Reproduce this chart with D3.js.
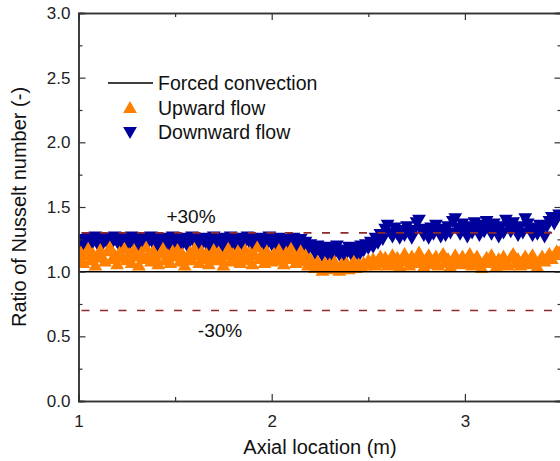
<!DOCTYPE html>
<html><head><meta charset="utf-8">
<script src="https://cdn.jsdelivr.net/npm/d3@7"></script>
<style>body{margin:0;background:#fff}svg{display:block;font-family:"Liberation Sans",Arial,sans-serif}</style>
</head><body><svg id="c" width="560" height="461"></svg>
<script>
const axialLocation = [
1.0000,1.0125,1.0250,1.0375,1.0500,1.0625,1.0750,1.0875,1.1000,1.1125,
1.1250,1.1375,1.1500,1.1625,1.1750,1.1875,1.2000,1.2125,1.2250,1.2375,
1.2500,1.2625,1.2750,1.2875,1.3000,1.3125,1.3250,1.3375,1.3500,1.3625,
1.3750,1.3875,1.4000,1.4125,1.4250,1.4375,1.4500,1.4625,1.4750,1.4875,
1.5000,1.5125,1.5250,1.5375,1.5500,1.5625,1.5750,1.5875,1.6000,1.6125,
1.6250,1.6375,1.6500,1.6625,1.6750,1.6875,1.7000,1.7125,1.7250,1.7375,
1.7500,1.7625,1.7750,1.7875,1.8000,1.8125,1.8250,1.8375,1.8500,1.8625,
1.8750,1.8875,1.9000,1.9125,1.9250,1.9375,1.9500,1.9625,1.9750,1.9875,
2.0000,2.0125,2.0250,2.0375,2.0500,2.0625,2.0750,2.0875,2.1000,2.1125,
2.1250,2.1375,2.1500,2.1625,2.1750,2.1875,2.2000,2.2125,2.2250,2.2375,
2.2500,2.2625,2.2750,2.2875,2.3000,2.3125,2.3250,2.3375,2.3500,2.3625,
2.3750,2.3875,2.4000,2.4125,2.4250,2.4375,2.4500,2.4625,2.4750,2.4875,
2.5000,2.5125,2.5250,2.5375,2.5500,2.5625,2.5750,2.5875,2.6000,2.6125,
2.6250,2.6375,2.6500,2.6625,2.6750,2.6875,2.7000,2.7125,2.7250,2.7375,
2.7500,2.7625,2.7750,2.7875,2.8000,2.8125,2.8250,2.8375,2.8500,2.8625,
2.8750,2.8875,2.9000,2.9125,2.9250,2.9375,2.9500,2.9625,2.9750,2.9875,
3.0000,3.0125,3.0250,3.0375,3.0500,3.0625,3.0750,3.0875,3.1000,3.1125,
3.1250,3.1375,3.1500,3.1625,3.1750,3.1875,3.2000,3.2125,3.2250,3.2375,
3.2500,3.2625,3.2750,3.2875,3.3000,3.3125,3.3250,3.3375,3.3500,3.3625,
3.3750,3.3875,3.4000,3.4125,3.4250,3.4375,3.4500,3.4625,3.4750,3.4875,
3.5000];
const downwardFlow = [
1.22,1.26,1.20,1.25,1.27,1.21,1.24,1.28,1.22,1.19,
1.25,1.27,1.23,1.20,1.26,1.28,1.24,1.21,1.27,1.23,
1.19,1.25,1.28,1.22,1.26,1.20,1.24,1.27,1.21,1.25,
1.28,1.23,1.19,1.26,1.22,1.27,1.24,1.20,1.25,1.28,
1.22,1.26,1.19,1.24,1.27,1.21,1.25,1.28,1.23,1.20,
1.26,1.22,1.27,1.24,1.19,1.25,1.28,1.21,1.26,1.23,
1.20,1.27,1.24,1.28,1.22,1.19,1.25,1.27,1.21,1.24,
1.28,1.23,1.20,1.26,1.22,1.27,1.25,1.19,1.24,1.28,
1.22,
1.25,1.20,1.27,1.23,1.18,1.26,1.21,1.24,1.27,1.19,1.23,1.26,1.20,1.24,1.18,1.22,
1.19,1.15,1.21,1.17,1.13,1.20,1.16,1.12,1.19,1.15,1.21,1.14,
1.18,1.12,1.17,1.20,1.14,1.19,1.16,1.13,1.21,1.17,1.22,1.19,
1.24,1.20,1.27,1.23,1.30,1.26,1.34,1.37,
1.31,1.28,1.35,1.30,1.27,1.33,1.29,1.36,1.31,1.27,
1.33,1.39,1.41,1.34,1.29,1.32,1.27,1.35,1.30,1.37,
1.32,1.28,1.34,1.29,1.36,1.31,1.40,1.42,1.35,1.30,
1.38,1.33,1.28,1.36,1.31,1.39,1.34,1.29,1.37,1.32,
1.40,1.35,1.30,1.38,1.33,1.28,1.36,1.31,1.41,1.37,
1.32,1.39,1.34,1.29,1.36,1.31,1.42,1.38,1.33,1.29,
1.35,1.30,1.37,1.33,1.28,1.36,1.40,1.43,1.38,1.42,
1.45,1.44];
const upwardFlow = [
1.09,1.14,1.06,1.12,1.17,1.08,1.13,1.04,1.11,1.16,
1.10,1.07,1.15,1.18,1.09,1.12,1.05,1.14,1.10,1.17,
1.08,1.13,1.06,1.16,1.11,1.04,1.14,1.09,1.18,1.12,
1.07,1.15,1.10,1.05,1.13,1.17,1.08,1.12,1.06,1.15,
1.11,1.16,1.07,1.13,1.04,1.10,1.14,1.08,1.17,1.12,
1.06,1.15,1.09,1.13,1.05,1.11,1.16,1.08,1.14,1.10,
1.04,1.12,1.17,1.07,1.13,1.09,1.15,1.06,1.11,1.16,
1.08,1.14,1.05,1.12,1.18,1.09,1.13,1.06,1.15,1.10,
1.07,
1.13,1.08,1.16,1.11,1.05,1.14,1.09,1.17,1.12,1.06,1.10,1.15,1.07,1.12,1.04,1.09,
1.05,1.02,1.07,1.03,1.00,1.06,1.02,1.05,1.01,1.07,1.03,1.00,
1.05,1.02,1.06,1.01,1.04,1.07,1.02,1.05,1.03,1.06,1.04,1.08,
1.05,1.09,1.04,1.08,1.11,1.06,1.10,1.04,
1.08,1.12,1.05,1.10,1.03,1.07,1.13,1.09,1.04,1.11,
1.06,1.10,1.14,1.07,1.03,1.09,1.12,1.05,1.08,1.11,
1.04,1.10,1.13,1.06,1.09,1.03,1.07,1.12,1.08,1.05,
1.11,1.06,1.09,1.13,1.04,1.08,1.11,1.05,1.02,1.07,
1.10,1.06,1.12,1.08,1.03,1.09,1.05,1.11,1.07,1.04,
1.10,1.13,1.06,1.09,1.04,1.08,1.11,1.05,1.09,1.12,
1.06,1.03,1.08,1.11,1.07,1.10,1.13,1.09,1.12,1.15,
1.14,1.16];
const forcedConvection = 1.0;
const bandLimits = [1.3, 0.7];
const bandLabels = ["+30%", "-30%"];
const xTicks = [1, 2, 3];
const yTicks = [0.0, 0.5, 1.0, 1.5, 2.0, 2.5, 3.0];
const legendLabels = ["Forced convection", "Upward flow", "Downward flow"];

const svg = d3.select("#c");
const x = d3.scaleLinear().domain([1, 3.5]).range([78.5, 561.5]);
const y = d3.scaleLinear().domain([0, 3]).range([401, 13]);
const axisCol = "#333";
const blue = "#00009c", orange = "#ff8000";

// markers
const tri = d3.symbol().type(d3.symbolTriangle).size(82);
const down = axialLocation.map((v,i)=>({x:v,y:downwardFlow[i]}));
const up = axialLocation.map((v,i)=>({x:v,y:upwardFlow[i]}));
svg.append("clipPath").attr("id","cp").append("rect")
  .attr("x",78.5).attr("y",13).attr("width",483).attr("height",388);
const g = svg.append("g").attr("clip-path","url(#cp)");
g.selectAll(".d").data(down).join("path").attr("d",tri)
  .attr("transform",d=>`translate(${x(d.x)},${y(d.y)}) rotate(180)`).attr("fill",blue);
g.selectAll(".u").data(up).join("path").attr("d",tri)
  .attr("transform",d=>`translate(${x(d.x)},${y(d.y)})`).attr("fill",orange);

// reference lines
svg.append("line").attr("x1",x(1)).attr("x2",x(3.5)).attr("y1",y(forcedConvection)).attr("y2",y(forcedConvection))
  .attr("stroke","#000").attr("stroke-width",1.5);
bandLimits.forEach(v=>{
  svg.append("line").attr("x1",x(1)+3).attr("x2",x(3.46)).attr("y1",y(v)).attr("y2",y(v))
    .attr("stroke","#8e2a2c").attr("stroke-width",1.6).attr("stroke-dasharray","8,10.5");
});
svg.append("text").attr("x",191).attr("y",223).attr("text-anchor","middle").attr("font-size",19).attr("fill","#111").text(bandLabels[0]);
svg.append("text").attr("x",220).attr("y",337).attr("text-anchor","middle").attr("font-size",19).attr("fill","#111").text(bandLabels[1]);

// axes
function styleAxis(sel){
  sel.selectAll(".domain").attr("stroke",axisCol).attr("stroke-width",1.5);
  sel.selectAll(".tick line").attr("stroke",axisCol).attr("stroke-width",1.2);
  sel.selectAll("text").attr("font-size",17).attr("fill","#222").attr("font-family","Liberation Sans, Arial, sans-serif");
}
const xMinor = [1.5, 2.5];
const yMinor = [0.25, 0.75, 1.25, 1.75, 2.25, 2.75];
svg.append("g").attr("transform","translate(0,401)")
  .call(d3.axisBottom(x).tickValues(xMinor).tickSize(-4).tickFormat("")).call(styleAxis);
svg.append("g").attr("transform","translate(0,401)")
  .call(d3.axisBottom(x).tickValues(xTicks).tickSize(-7).tickPadding(14).tickFormat(d3.format("d"))).call(styleAxis);
svg.append("g").attr("transform","translate(0,13)")
  .call(d3.axisTop(x).tickValues(xMinor).tickSize(-4).tickFormat("")).call(styleAxis);
svg.append("g").attr("transform","translate(0,13)")
  .call(d3.axisTop(x).tickValues(xTicks).tickSize(-7).tickFormat("")).call(styleAxis);
svg.append("g").attr("transform","translate(78.5,0)")
  .call(d3.axisLeft(y).tickValues(yMinor).tickSize(-4).tickFormat("")).call(styleAxis);
svg.append("g").attr("transform","translate(78.5,0)")
  .call(d3.axisLeft(y).tickValues(yTicks).tickSize(-7).tickPadding(8).tickFormat(d3.format(".1f"))).call(styleAxis);
svg.append("g").attr("transform","translate(561.5,0)")
  .call(d3.axisRight(y).tickValues(yMinor).tickSize(-4).tickFormat("")).call(styleAxis);
svg.append("g").attr("transform","translate(561.5,0)")
  .call(d3.axisRight(y).tickValues(yTicks).tickSize(-7).tickFormat("")).call(styleAxis);

// axis titles
svg.append("text").attr("x",320).attr("y",454).attr("text-anchor","middle").attr("font-size",20).attr("fill","#111").text("Axial location (m)");
svg.append("text").attr("transform","translate(26,207) rotate(-90)").attr("text-anchor","middle").attr("font-size",20).attr("fill","#111").text("Ratio of Nusselt number (-)");

// legend
const lg = svg.append("g");
lg.append("line").attr("x1",108).attr("x2",153).attr("y1",83).attr("y2",83).attr("stroke","#000").attr("stroke-width",1.5);
lg.append("path").attr("d",tri).attr("transform","translate(130,109)").attr("fill",orange);
lg.append("path").attr("d",tri).attr("transform","translate(130,131) rotate(180)").attr("fill",blue);
legendLabels.forEach((t,i)=>{
  lg.append("text").attr("x",158).attr("y",90+i*24.5).attr("font-size",19.5).attr("fill","#111").text(t);
});
</script></body></html>
